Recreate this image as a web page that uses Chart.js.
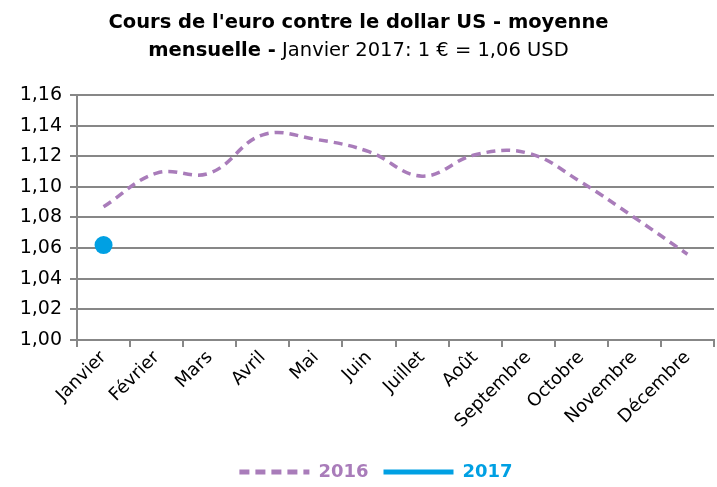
<!DOCTYPE html>
<html>
<head>
<meta charset="utf-8">
<script src="https://cdn.jsdelivr.net/npm/chart.js@4.4.1/dist/chart.umd.min.js"></script>
<style>
  html, body { margin: 0; padding: 0; background: #fff; }
  #wrap { position: relative; width: 717px; height: 487px; }
  #title { position: absolute; left: 0; top: 8px; width: 717px; text-align: center;
           font-family: "DejaVu Sans", sans-serif; font-size: 19.5px; line-height: 28px; color: #000; }
  #title b { font-weight: bold; }
  canvas { position: absolute; left: 0; top: 0; }
</style>
</head>
<body>
<div id="wrap">
  <canvas id="c" width="717" height="487"></canvas>
  <div id="title"><b>Cours de l'euro contre le dollar US - moyenne<br>mensuelle -</b> Janvier 2017: 1 € = 1,06 USD</div>
</div>
<script>
const months = ['Janvier','Février','Mars','Avril','Mai','Juin','Juillet','Août','Septembre','Octobre','Novembre','Décembre'];
const values2016 = [1.087, 1.109, 1.109, 1.134, 1.131, 1.123, 1.107, 1.121, 1.122, 1.103, 1.080, 1.056];
const values2017 = [1.062];
const yTicks = [1.00, 1.02, 1.04, 1.06, 1.08, 1.10, 1.12, 1.14, 1.16];

const purple = '#a97cba';
const blue = '#00a0e3';
const grey = '#878787';
const font = "'DejaVu Sans', sans-serif";

const shiftLegend = {
  id: 'shiftLegend',
  afterLayout(chart) {
    if (chart.legend) { chart.legend.left += 19; chart.legend.right += 19; chart.legend.top += 4; chart.legend.bottom += 4; }
  }
};

new Chart(document.getElementById('c'), {
  type: 'line',
  data: {
    labels: months,
    datasets: [
      { label: '2016', data: values2016, borderColor: purple, backgroundColor: purple,
        borderWidth: 3.5, borderDash: [9, 6], tension: 0.4, pointRadius: 0, fill: false },
      { label: '2017', data: values2017, borderColor: blue, backgroundColor: blue,
        borderWidth: 4, pointRadius: 9, pointBackgroundColor: blue, pointBorderWidth: 0, fill: false }
    ]
  },
  plugins: [shiftLegend],
  options: {
    responsive: false,
    animation: false,
    layout: { autoPadding: false, padding: { top: 95, right: 3, left: 0, bottom: 0 } },
    plugins: {
      title: { display: false },
      tooltip: { enabled: false },
      legend: {
        position: 'bottom',
        labels: {
          font: { family: font, size: 18, weight: 'bold' },
          usePointStyle: true,
          pointStyleWidth: 70,
          boxWidth: 70,
          boxHeight: 4,
          padding: 15,
          generateLabels(chart) {
            return chart.data.datasets.map((ds, i) => ({
              text: ds.label,
              fontColor: ds.borderColor,
              strokeStyle: ds.borderColor,
              fillStyle: ds.borderColor,
              lineWidth: 5,
              lineDash: i === 0 ? [10, 6] : [],
              lineCap: 'butt',
              pointStyle: 'line',
              datasetIndex: i,
              hidden: false
            }));
          }
        }
      }
    },
    scales: {
      x: {
        offset: true,
        afterFit(scale) { scale.paddingRight = 0; scale.paddingLeft = 0; scale.height = 104; },
        grid: { offset: true, drawOnChartArea: false, drawTicks: true, tickLength: 7, color: grey, lineWidth: 2 },
        border: { color: grey, width: 2 },
        ticks: { font: { family: font, size: 18 }, color: '#000', minRotation: 45, maxRotation: 45, padding: 0 }
      },
      y: {
        min: 1.00, max: 1.16,
        afterBuildTicks(scale) { scale.ticks = yTicks.map(v => ({ value: v })); },
        afterFit(scale) { scale.width = 77; scale.paddingTop = 0; scale.paddingBottom = 0; },
        grid: { color: grey, lineWidth: 2, tickLength: 7 },
        border: { color: grey, width: 2 },
        ticks: { font: { family: font, size: 19 }, color: '#000', padding: 8,
                 callback: v => Number(v).toFixed(2).replace('.', ',') }
      }
    }
  }
});
</script>
</body>
</html>
